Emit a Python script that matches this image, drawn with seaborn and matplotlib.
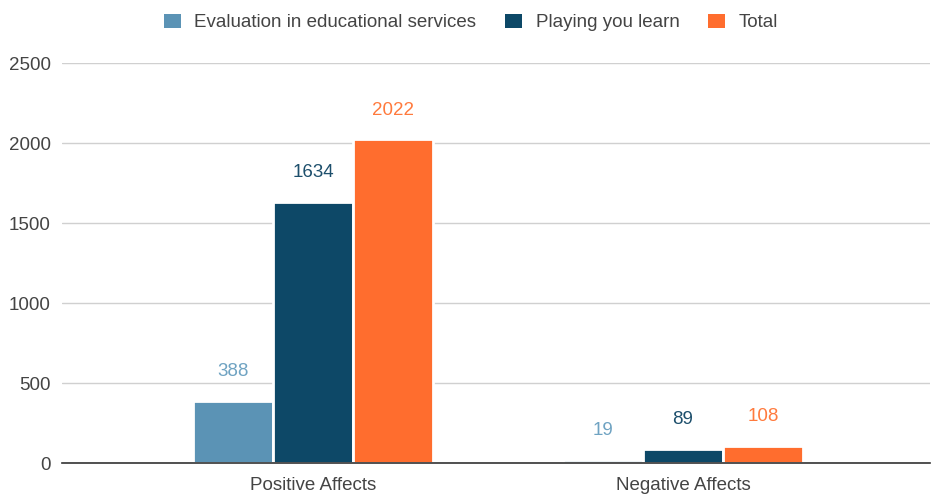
import matplotlib
matplotlib.use("Agg")
import matplotlib.pyplot as plt
import seaborn as sns
import pandas as pd
from matplotlib.patches import Patch

categories = ["Positive Affects", "Negative Affects"]
series_names = ["Evaluation in educational services", "Playing you learn", "Total"]
evaluation = [388, 19]
playing = [1634, 89]
total = [2022, 108]
y_ticks = [0, 500, 1000, 1500, 2000, 2500]

colors = ["#5b93b5", "#0d4867", "#ff6d2e"]
label_colors = ["#6fa3c2", "#1d4f6c", "#ff7a3d"]

rows = []
for name, vals in zip(series_names, [evaluation, playing, total]):
    for c, v in zip(categories, vals):
        rows.append({"category": c, "series": name, "value": v})
df = pd.DataFrame(rows)

sns.set_style("white")
plt.rcParams["font.family"] = ["Liberation Sans", "DejaVu Sans"]
FS = 13.5

fig = plt.figure(figsize=(9.32, 4.96), dpi=100)
ax = fig.add_axes([62 / 932, 33 / 496, (930 - 62) / 932, 400 / 496])

sns.barplot(data=df, x="category", y="value", hue="series", order=categories,
            hue_order=series_names, palette=colors, width=0.65, ax=ax,
            edgecolor="white", linewidth=2.0, legend=False, saturation=1)

for cont, lc in zip(ax.containers, label_colors):
    ax.bar_label(cont, labels=[str(int(b.get_height())) for b in cont],
                 padding=15, color=lc, fontsize=FS)

ax.set_ylim(0, 2500)
ax.set_yticks(y_ticks)
ax.set_yticklabels([str(t) for t in y_ticks])
ax.set_xlim((62 - 313) / 370, (930 - 313) / 370)
ax.set_xlabel("")
ax.set_ylabel("")
ax.yaxis.grid(True, color="#d0d0d0", linewidth=1)
ax.set_axisbelow(True)
for s in ["top", "right", "left"]:
    ax.spines[s].set_visible(False)
ax.spines["bottom"].set_color("#333333")
ax.spines["bottom"].set_linewidth(1.2)
ax.tick_params(axis="both", length=0, labelsize=FS, labelcolor="#444444")
ax.tick_params(axis="y", pad=8)
ax.tick_params(axis="x", pad=10)

handles = [Patch(facecolor=c, edgecolor="none") for c in colors]
fig.legend(handles, series_names, loc="upper center", bbox_to_anchor=(0.505, 1.006),
           ncol=3, frameon=False, fontsize=FS, handlelength=0.95, handleheight=0.75,
           columnspacing=1.5, handletextpad=0.7, labelcolor="#444444")

fig.savefig("out.png", dpi=100)
